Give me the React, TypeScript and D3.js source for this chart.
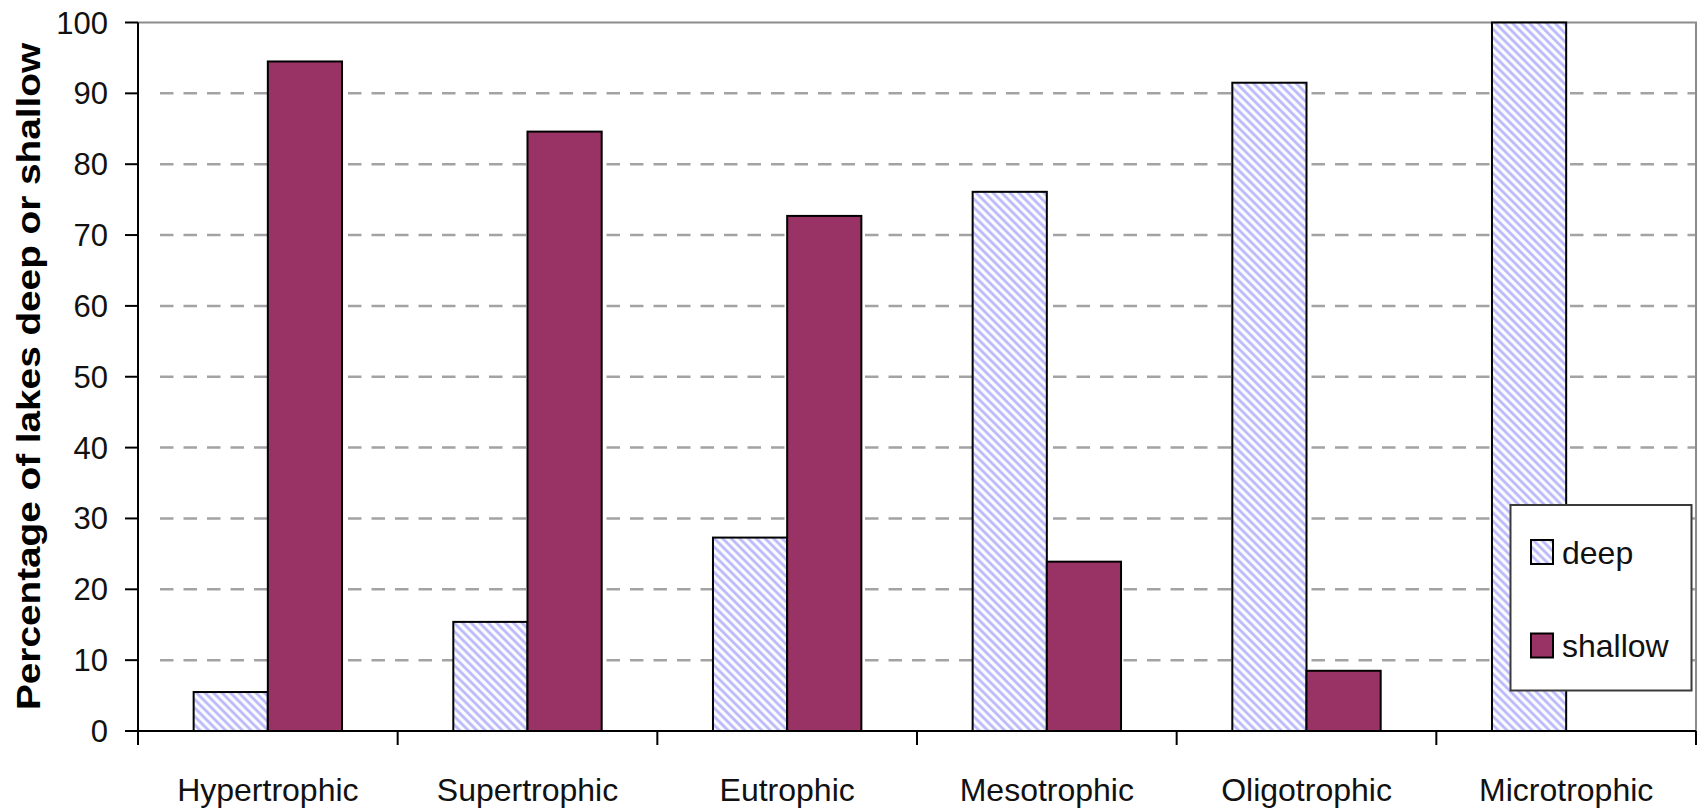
import React from 'react';
import * as d3 from 'd3';

// Share of lakes in each trophic class that are deep or shallow (%)
const categories = ['Hypertrophic', 'Supertrophic', 'Eutrophic', 'Mesotrophic', 'Oligotrophic', 'Microtrophic'];
const seriesNames = ['deep', 'shallow'];
const deepValues = [5.5, 15.4, 27.3, 76.1, 91.5, 100];
const shallowValues = [94.5, 84.6, 72.7, 23.9, 8.5, 0];
const yTicks = [0, 10, 20, 30, 40, 50, 60, 70, 80, 90, 100];
const yTitle = 'Percentage of lakes deep or shallow';

const W = 1704;
const H = 811;
const plot = { left: 138, right: 1696, top: 22.5, bottom: 731 };

const FONT = "'Liberation Sans', Arial, Helvetica, sans-serif";
const SHALLOW_FILL = '#993366';
const HATCH = '#b6b6fb';

export default function App() {
  const x = d3.scaleBand<string>().domain(categories).range([plot.left, plot.right]).paddingInner(0).paddingOuter(0);
  const inner = d3
    .scaleBand<string>()
    .domain(seriesNames)
    .range([0, x.bandwidth()])
    .paddingInner(0)
    .paddingOuter(0.75);
  const y = d3.scaleLinear().domain([0, 100]).range([plot.bottom, plot.top]);

  const rows = categories.map((c, i) => ({ category: c, deep: deepValues[i], shallow: shallowValues[i] }));
  const boundaries = [...categories.map((c) => x(c) as number), plot.right];

  const fillFor = (s: string) => (s === 'deep' ? 'url(#hatch)' : SHALLOW_FILL);

  return (
    <svg
      width={W}
      height={H}
      viewBox={`0 0 ${W} ${H}`}
      style={{ position: 'absolute', left: 0, top: 0, background: '#fff' }}
    >
      <defs>
        <pattern id="hatch" width={6} height={6} patternUnits="userSpaceOnUse" patternTransform="rotate(-45)">
          <rect width={6} height={6} fill="#fbfbff" />
          <line x1={1.5} y1={0} x2={1.5} y2={6} stroke={HATCH} strokeWidth={2.6} />
        </pattern>
      </defs>
      <rect x={0} y={0} width={W} height={H} fill="#fff" />

      {/* gridlines */}
      {yTicks
        .filter((t) => t > 0 && t < 100)
        .map((t) => (
          <line
            key={`g${t}`}
            x1={plot.left + 22}
            x2={plot.right}
            y1={y(t)}
            y2={y(t)}
            stroke="#a3a3a3"
            strokeWidth={2.5}
            strokeDasharray="13.5 10"
          />
        ))}

      {/* plot area border (top and right) */}
      <path
        d={`M${plot.left},${plot.top}H${plot.right}V${plot.bottom}`}
        fill="none"
        stroke="#8c8c8c"
        strokeWidth={2}
      />

      {/* bars */}
      {rows.map((r) => (
        <g key={r.category} transform={`translate(${x(r.category)},0)`}>
          {seriesNames.map((s) => {
            const v = (r as any)[s] as number;
            if (v <= 0) return null;
            return (
              <rect
                key={s}
                x={inner(s)}
                y={y(v)}
                width={inner.bandwidth()}
                height={y(0) - y(v)}
                fill={fillFor(s)}
                stroke="#000"
                strokeWidth={2}
              />
            );
          })}
        </g>
      ))}

      {/* y axis */}
      <line x1={plot.left} x2={plot.left} y1={plot.top} y2={plot.bottom} stroke="#000" strokeWidth={2} />
      {yTicks.map((t) => (
        <g key={`yt${t}`}>
          <line x1={plot.left - 13} x2={plot.left} y1={y(t)} y2={y(t)} stroke="#000" strokeWidth={2} />
          <text
            x={108}
            y={y(t) + 11}
            textAnchor="end"
            fontFamily={FONT}
            fontSize={31}
            fill="#111"
          >
            {t}
          </text>
        </g>
      ))}

      {/* x axis */}
      <line x1={plot.left - 13} x2={plot.right} y1={plot.bottom} y2={plot.bottom} stroke="#000" strokeWidth={2} />
      {boundaries.map((b, i) => (
        <line key={`xt${i}`} x1={b} x2={b} y1={plot.bottom} y2={plot.bottom + 14} stroke="#000" strokeWidth={2} />
      ))}
      {categories.map((c) => (
        <text
          key={`xl${c}`}
          x={(x(c) as number) + x.bandwidth() / 2}
          y={801}
          textAnchor="middle"
          fontFamily={FONT}
          fontSize={32}
          fill="#111"
        >
          {c}
        </text>
      ))}

      {/* y axis title */}
      <text
        transform={`translate(40, 376.5) rotate(-90)`}
        textAnchor="middle"
        fontFamily={FONT}
        fontWeight="bold"
        fontSize={33}
        textLength={667}
        lengthAdjust="spacingAndGlyphs"
        fill="#000"
      >
        {yTitle}
      </text>

      {/* legend */}
      <g>
        <rect x={1510.5} y={505} width={181} height={185.5} fill="#fff" stroke="#3a3a3a" strokeWidth={2} />
        {seriesNames.map((s, i) => (
          <g key={`lg${s}`} transform={`translate(1531, ${540 + i * 93.5})`}>
            <rect x={0} y={0} width={22} height={24} fill={fillFor(s)} stroke="#000" strokeWidth={2} />
            <text x={31} y={23.5} fontFamily={FONT} fontSize={32} fill="#111">
              {s}
            </text>
          </g>
        ))}
      </g>
    </svg>
  );
}
